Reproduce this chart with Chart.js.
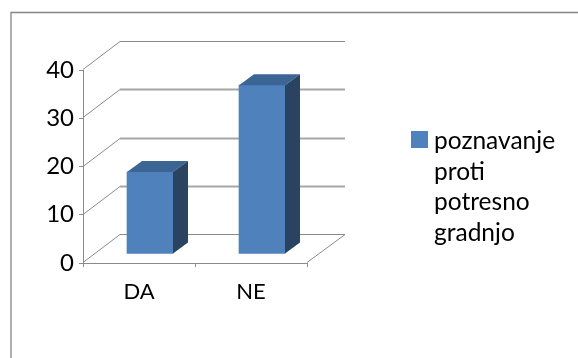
<!DOCTYPE html>
<html>
<head>
<meta charset="utf-8">
<title>poznavanje proti potresno gradnjo</title>
<script src="https://cdn.jsdelivr.net/npm/chart.js@4"></script>
<style>
  html, body { margin: 0; padding: 0; background: #fff; }
  canvas { display: block; }
</style>
</head>
<body>
<canvas id="chart" width="578" height="358"></canvas>
<script>
const categories = ["DA", "NE"];
const seriesValues = [17, 35];
const seriesLabelLines = ["poznavanje", "proti", "potresno", "gradnjo"];
const yTicks = [0, 10, 20, 30, 40];

const FONT = "Lato, Carlito, sans-serif";
const LINE_COLOR = "#8a8a8a";
const WALL_DX = 37;
const WALL_DY = 28;
const BAR_SHIFT_X = 11;
const BAR_SHIFT_Y = 9;
const BAR_DEPTH_X = 15;
const BAR_DEPTH_Y = 11;

function fillPoly(ctx, color, points) {
  ctx.fillStyle = color;
  ctx.beginPath();
  points.forEach(([x, y], i) => (i ? ctx.lineTo(x, y) : ctx.moveTo(x, y)));
  ctx.closePath();
  ctx.fill();
}

function strokeLine(ctx, x0, y0, x1, y1) {
  ctx.beginPath();
  ctx.moveTo(x0, y0);
  ctx.lineTo(x1, y1);
  ctx.stroke();
}

// outer frame, only the top and left edges show
const framePlugin = {
  id: "frame",
  beforeDraw(chart) {
    const { ctx, width } = chart;
    ctx.save();
    ctx.strokeStyle = "#858585";
    ctx.lineWidth = 1.3;
    ctx.beginPath();
    ctx.moveTo(width, 12.5);
    ctx.lineTo(11, 12.5);
    ctx.lineTo(11, chart.height);
    ctx.stroke();
    ctx.restore();
  },
};

// floor and back wall of the 3d box, gridlines come from the y scale
const wallsPlugin = {
  id: "walls",
  beforeDatasetsDraw(chart) {
    const { ctx, chartArea, scales } = chart;
    const { left, right } = chartArea;
    ctx.save();
    yTicks.forEach((tick) => {
      const y = Math.round(scales.y.getPixelForValue(tick)) - 0.5;
      const backX = left + WALL_DX;
      const backY = y - WALL_DY;
      ctx.strokeStyle = LINE_COLOR;
      ctx.lineWidth = 1;
      strokeLine(ctx, left, y, backX, backY);
      // middle gridlines sit heavier on the back wall than the top and floor
      const isMiddle = tick > yTicks[0] && tick < yTicks[yTicks.length - 1];
      ctx.strokeStyle = isMiddle ? "#a6a6a6" : LINE_COLOR;
      ctx.lineWidth = isMiddle ? 1.8 : 1;
      strokeLine(ctx, backX, backY, right + WALL_DX + 1, backY);
    });
    const floorY = Math.round(scales.y.getPixelForValue(0)) - 0.5;
    ctx.strokeStyle = LINE_COLOR;
    ctx.lineWidth = 1;
    strokeLine(ctx, right + WALL_DX + 1, floorY - WALL_DY, right, floorY);
    ctx.restore();

    // bars stand in the middle of the floor depth
    ctx.save();
    ctx.translate(BAR_SHIFT_X, -BAR_SHIFT_Y);
  },
  afterDatasetsDraw(chart) {
    const { ctx } = chart;
    chart.getDatasetMeta(0).data.forEach((bar) => {
      const x0 = bar.x - bar.width / 2;
      const x1 = bar.x + bar.width / 2;
      fillPoly(ctx, "#3b6594", [
        [x0, bar.y],
        [x0 + BAR_DEPTH_X, bar.y - BAR_DEPTH_Y],
        [x1 + BAR_DEPTH_X, bar.y - BAR_DEPTH_Y],
        [x1, bar.y],
      ]);
      fillPoly(ctx, "#2a4361", [
        [x1, bar.y],
        [x1 + BAR_DEPTH_X, bar.y - BAR_DEPTH_Y],
        [x1 + BAR_DEPTH_X, bar.base - BAR_DEPTH_Y],
        [x1, bar.base],
      ]);
    });
    ctx.restore();
  },
};

// legend text has to wrap over four lines
const legendPlugin = {
  id: "wrappedLegend",
  afterDraw(chart) {
    const { ctx } = chart;
    ctx.save();
    ctx.fillStyle = "#4f81bd";
    ctx.fillRect(411, 131, 17, 17);
    ctx.fillStyle = "#000";
    ctx.font = "24.5px " + FONT;
    ctx.textAlign = "left";
    ctx.textBaseline = "alphabetic";
    seriesLabelLines.forEach((line, i) => {
      ctx.fillText(line, 434, 149 + i * 30.5);
    });
    ctx.restore();
  },
};

new Chart(document.getElementById("chart"), {
  type: "bar",
  data: {
    labels: categories,
    datasets: [
      {
        label: seriesLabelLines.join(" "),
        data: seriesValues,
        backgroundColor: "#4f81bd",
        barThickness: 46,
      },
    ],
  },
  options: {
    responsive: false,
    animation: false,
    layout: {
      padding: { left: 43, top: 70, right: 271, bottom: 55 },
    },
    plugins: {
      legend: { display: false },
      tooltip: { enabled: false },
    },
    scales: {
      x: {
        grid: {
          drawOnChartArea: false,
          color: LINE_COLOR,
          tickLength: 4,
        },
        border: { color: LINE_COLOR },
        ticks: {
          color: "#000",
          padding: 12,
          font: { family: FONT, size: 22 },
        },
        afterFit(scale) {
          scale.height = 40;
        },
      },
      y: {
        min: 0,
        max: 40,
        afterBuildTicks(scale) {
          scale.ticks = yTicks.map((value) => ({ value }));
        },
        grid: {
          drawOnChartArea: false,
          color: LINE_COLOR,
          tickLength: 4,
        },
        border: { color: LINE_COLOR },
        ticks: {
          color: "#000",
          padding: 5,
          font: { family: FONT, size: 24 },
        },
        afterFit(scale) {
          scale.width = 40;
        },
      },
    },
  },
  plugins: [framePlugin, wallsPlugin, legendPlugin],
});
</script>
</body>
</html>
